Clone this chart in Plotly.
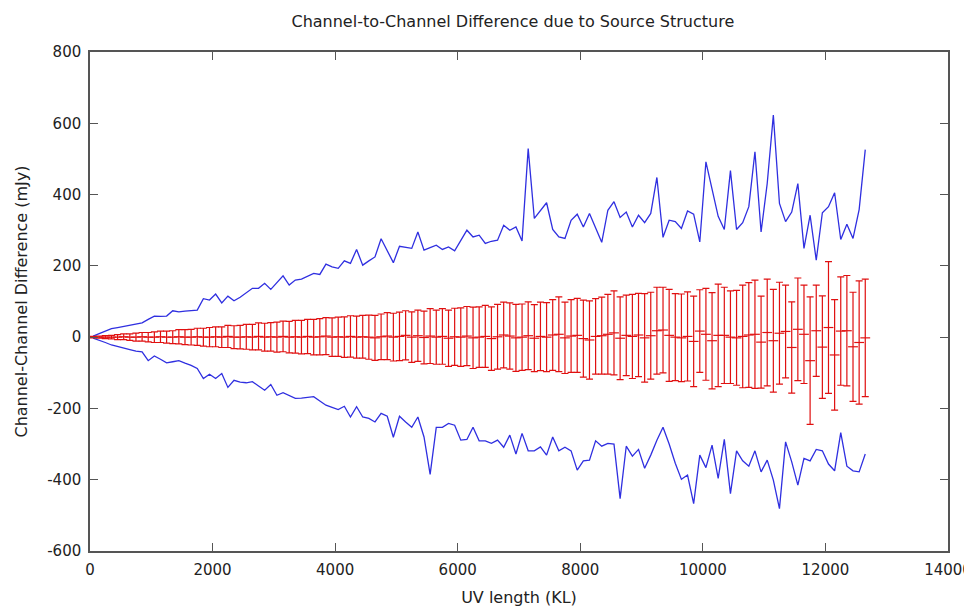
import plotly.graph_objects as go

# UV length sample positions (KL), one every 100 KL
uv_length = list(range(50, 12700, 100))

upper_env = [3, 10, 17, 24, 27, 30, 33, 37, 40, 50,
             59, 58, 59, 74, 71, 73, 75, 76, 108, 104,
             121, 96, 115, 102, 112, 125, 137, 137, 151, 134,
             153, 172, 146, 160, 163, 171, 179, 176, 205, 197,
             193, 214, 207, 246, 202, 214, 225, 276, 242, 209,
             255, 252, 249, 295, 244, 251, 258, 246, 253, 242,
             271, 300, 281, 286, 263, 269, 272, 314, 300, 309,
             270, 529, 333, 355, 377, 302, 281, 277, 328, 345,
             309, 347, 309, 266, 356, 380, 336, 351, 309, 342,
             321, 347, 448, 280, 328, 324, 305, 354, 345, 267,
             492, 417, 339, 302, 467, 302, 321, 366, 520, 295,
             431, 623, 375, 324, 351, 431, 249, 342, 216, 349,
             366, 405, 274, 317, 277, 358, 526]

lower_env = [-3, -8, -15, -22, -27, -31, -35, -39, -41, -66,
             -53, -62, -72, -69, -66, -73, -79, -88, -116, -104,
             -116, -102, -141, -121, -126, -128, -125, -137, -149, -133,
             -163, -156, -164, -172, -171, -169, -167, -179, -191, -197,
             -203, -194, -224, -195, -224, -228, -238, -214, -222, -281,
             -222, -238, -253, -224, -280, -385, -253, -253, -242, -247,
             -289, -287, -253, -291, -291, -298, -289, -309, -275, -328,
             -270, -319, -319, -308, -331, -280, -319, -309, -319, -373,
             -347, -345, -291, -306, -298, -300, -453, -306, -334, -315,
             -368, -331, -289, -253, -300, -354, -399, -387, -467, -331,
             -366, -303, -396, -287, -439, -319, -347, -362, -319, -378,
             -345, -401, -481, -294, -350, -415, -340, -347, -315, -319,
             -356, -375, -268, -362, -375, -378, -328]

mean_diff = [0, 0, 0, 0, 0, 1, 0, 0, 1, 0,
             0, 1, 0, 0, 1, 0, 0, 1, 0, 0,
             1, 0, 2, 0, 0, 1, 0, 2, 0, 1,
             0, 2, 0, 1, 0, 2, 0, 1, 3, 0,
             1, 0, 2, 0, 1, 0, -2, 1, 3, 0,
             2, 5, 0, 4, -1, 3, 0, 2, -3, 1,
             0, 3, -2, 0, 2, -4, 1, 6, 3, -2,
             0, 4, -3, 2, 0, 6, 8, -2, 3, 5,
             -4, -8, 2, 4, 8, 12, -3, 5, 2, 6,
             -2, 4, 18, 20, 5, 0, -2, 2, -12, 17,
             8, -10, 5, 5, 0, -2, 2, 6, 8, -14,
             13, -10, 11, 16, -29, 22, 8, -66, 18, -28,
             27, -50, 17, 18, -27, -15, -2]

diff_err = [2, 3, 4, 5, 7, 8, 9, 11, 12, 13,
            15, 16, 17, 18, 20, 21, 22, 24, 25, 27,
            28, 29, 31, 32, 33, 35, 36, 38, 39, 40,
            42, 43, 44, 46, 47, 48, 50, 51, 52, 54,
            55, 57, 58, 59, 60, 62, 63, 64, 66, 67,
            68, 69, 71, 72, 74, 77, 76, 78, 79, 80,
            82, 83, 86, 85, 87, 89, 91, 92, 93, 94,
            93, 95, 94, 96, 97, 99, 105, 100, 102, 104,
            108, 110, 106, 108, 112, 118, 116, 113, 118, 117,
            124, 122, 122, 120, 129, 122, 123, 125, 127, 116,
            129, 135, 144, 135, 130, 133, 144, 147, 152, 129,
            150, 144, 143, 130, 128, 144, 138, 179, 128, 144,
            185, 155, 152, 155, 153, 173, 165]

x_ticks = [0, 2000, 4000, 6000, 8000, 10000, 12000, 14000]
x_tick_text = ["0", "2000", "4000", "6000", "8000", "10000", "12000", "14000"]
y_ticks = [-600, -400, -200, 0, 200, 400, 600, 800]
y_tick_text = ["-600", "-400", "-200", "0", "200", "400", "600", "800"]

BLUE = "#2f2fe0"
RED = "#e01010"
TXT = "#222222"
FONT = "DejaVu Sans"

fig = go.Figure()
fig.add_trace(go.Scatter(x=uv_length, y=upper_env, mode="lines",
                         line=dict(color=BLUE, width=1.3), showlegend=False))
fig.add_trace(go.Scatter(x=uv_length, y=lower_env, mode="lines",
                         line=dict(color=BLUE, width=1.3), showlegend=False))
fig.add_trace(go.Scatter(
    x=uv_length, y=mean_diff, mode="markers",
    marker=dict(symbol="line-ew", size=7, color=RED,
                line=dict(color=RED, width=1.2)),
    error_y=dict(type="data", array=diff_err, symmetric=True,
                 color=RED, thickness=1.2, width=3.5),
    showlegend=False))

axis_common = dict(showline=True, linecolor="#555555", linewidth=1.5, mirror="allticks",
                   ticks="inside", ticklen=8, tickcolor="#555555", tickwidth=1.2,
                   showgrid=False, zeroline=False,
                   tickfont=dict(family=FONT, size=15, color=TXT))

fig.update_layout(
    width=964, height=615,
    margin=dict(l=90, r=16, t=52, b=64),
    paper_bgcolor="white", plot_bgcolor="white",
    title=dict(text="Channel-to-Channel Difference due to Source Structure",
               x=0.532, xanchor="center", y=0.966, yanchor="middle",
               font=dict(family=FONT, size=16, color=TXT)),
    xaxis=dict(range=[0, 14000], tickvals=x_ticks, ticktext=x_tick_text,
               ticklabeloverflow="allow", ticklabelstandoff=4, automargin=False,
               title=dict(text="UV length (KL)", standoff=14,
                          font=dict(family=FONT, size=16, color=TXT)),
               **axis_common),
    yaxis=dict(range=[-600, 800], tickvals=y_ticks, ticktext=y_tick_text,
               ticklabelstandoff=4, automargin=False,
               title=dict(text="Channel-Channel Difference (mJy)", standoff=16,
                          font=dict(family=FONT, size=16, color=TXT)),
               **axis_common),
)

fig.write_html("out.html")
